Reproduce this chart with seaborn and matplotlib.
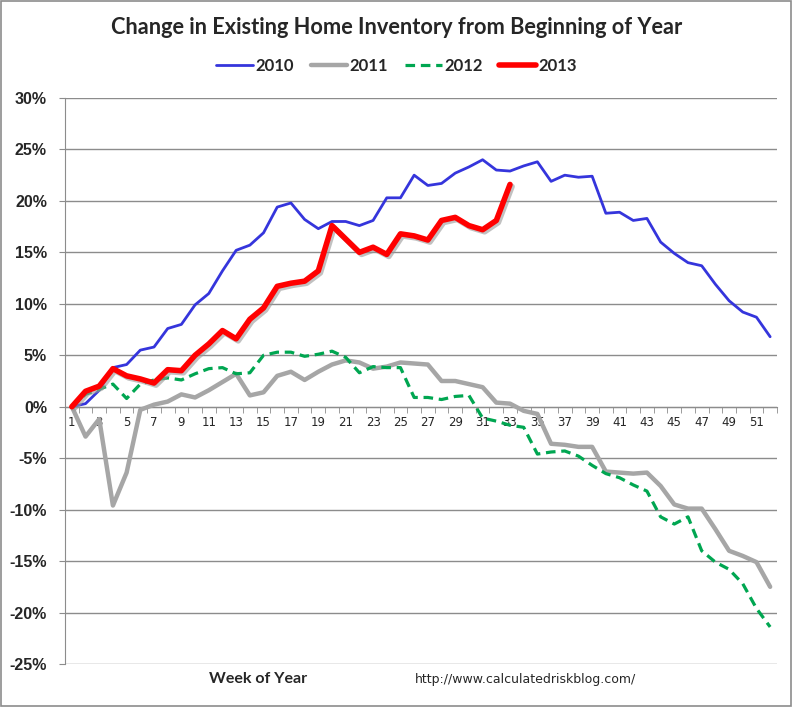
import numpy as np
import pandas as pd
import matplotlib
matplotlib.use("Agg")
import matplotlib.pyplot as plt
import matplotlib.patheffects as pe
from matplotlib.patches import Rectangle
from matplotlib.lines import Line2D
from matplotlib.ticker import FixedLocator, FuncFormatter
import seaborn as sns

weeks = list(range(1, 53))

y2010 = [0.0, 0.3, 1.6, 3.8, 4.1, 5.5, 5.8, 7.6, 8.0, 9.9, 11.0, 13.2, 15.2, 15.7, 16.9,
         19.4, 19.8, 18.2, 17.3, 18.0, 18.0, 17.6, 18.1, 20.3, 20.3, 22.5, 21.5, 21.7,
         22.7, 23.3, 24.0, 23.0, 22.9, 23.4, 23.8, 21.9, 22.5, 22.3, 22.4, 18.8, 18.9,
         18.1, 18.3, 16.0, 14.9, 14.0, 13.7, 11.9, 10.3, 9.2, 8.7, 6.8]
y2011 = [0.0, -2.9, -1.2, -9.6, -6.4, -0.3, 0.2, 0.5, 1.2, 0.9, 1.6, 2.4, 3.2, 1.1, 1.4,
         3.0, 3.4, 2.6, 3.4, 4.1, 4.5, 4.3, 3.7, 3.9, 4.3, 4.2, 4.1, 2.5, 2.5, 2.2, 1.9,
         0.4, 0.3, -0.4, -0.7, -3.6, -3.7, -3.9, -3.9, -6.3, -6.4, -6.5, -6.4, -7.7,
         -9.5, -9.9, -9.9, -11.9, -14.0, -14.5, -15.1, -17.5]
y2012 = [0.0, 1.2, 1.7, 2.2, 0.8, 2.2, 2.6, 2.8, 2.6, 3.2, 3.7, 3.8, 3.2, 3.3, 5.0, 5.3,
         5.3, 4.9, 5.1, 5.4, 4.8, 3.3, 3.9, 3.8, 3.8, 0.9, 0.9, 0.7, 1.0, 1.1, -1.1,
         -1.4, -1.8, -2.0, -4.6, -4.4, -4.3, -4.8, -5.7, -6.5, -6.9, -7.6, -8.2, -10.7,
         -11.4, -10.7, -14.0, -15.1, -15.8, -17.2, -19.6, -21.4]
y2013 = [0.0, 1.5, 2.0, 3.7, 3.0, 2.7, 2.3, 3.6, 3.5, 5.0, 6.1, 7.4, 6.6, 8.5, 9.6, 11.7,
         12.0, 12.2, 13.2, 17.6, 16.3, 15.0, 15.5, 14.8, 16.8, 16.6, 16.2, 18.1, 18.4,
         17.6, 17.2, 18.1, 21.6]

years = ["2010", "2011", "2012", "2013"]
y_ticks = list(range(-25, 31, 5))
x_labels = list(range(1, 53, 2))

frames = []
for name, vals in zip(years, [y2010, y2011, y2012, y2013]):
    frames.append(pd.DataFrame({"week": weeks[:len(vals)], "value": vals, "year": name}))
df = pd.concat(frames, ignore_index=True)

sns.set_style("white")
plt.rcParams["font.family"] = ["DejaVu Sans"]

fig = plt.figure(figsize=(7.93, 7.07), dpi=100)
ax = fig.add_axes([65 / 793, 1 - 664 / 707, (777 - 65) / 793, (664 - 98) / 707])

styles = {
    "2010": dict(color="#3535DC", lw=2.0, ls="-"),
    "2011": dict(color="#A6A6A6", lw=3.2, ls="-"),
    "2012": dict(color="#00A651", lw=2.3, ls=(0, (3, 1.8))),
    "2013": dict(color="#FF0000", lw=4.0, ls="-"),
}
for name in years:
    st = styles[name]
    sub = df[df["year"] == name]
    sns.lineplot(data=sub, x="week", y="value", ax=ax, color=st["color"],
                 linewidth=st["lw"], linestyle=st["ls"], label=name, legend=False,
                 zorder=3 if name != "2013" else 4)

red_line = ax.get_lines()[-1]
red_line.set_path_effects([pe.SimpleLineShadow(offset=(1.5, -1.5), shadow_color="#999999", alpha=0.6),
                           pe.Normal()])

ax.set_xlim(0.5, 52.5)
ax.set_ylim(-25, 30)
ax.set_yticks(y_ticks)
ax.yaxis.set_major_formatter(FuncFormatter(lambda v, p: f"{int(v)}%"))
ax.grid(axis="y", color="#8C8C8C", lw=1.0)
ax.set_axisbelow(True)
for t in ax.get_yticklabels():
    t.set_fontweight("bold")
    t.set_family(["Liberation Sans", "DejaVu Sans"])
ax.tick_params(axis="y", labelsize=11.5, length=4, color="#8C8C8C", left=True, pad=9)

ax.spines["bottom"].set_position(("data", 0))
ax.spines["bottom"].set_color("#8C8C8C")
ax.spines["left"].set_color("#8C8C8C")
ax.spines["top"].set_visible(False)
ax.spines["right"].set_visible(False)
ax.set_xticks(x_labels)
ax.set_xticklabels([str(v) for v in x_labels])
ax.xaxis.set_minor_locator(FixedLocator(np.arange(0.5, 53, 1.0)))
ax.tick_params(axis="x", which="major", length=0, labelsize=8.5, pad=7)
ax.tick_params(axis="x", which="minor", length=4, color="#8C8C8C", bottom=True, direction="out")
ax.set_xlabel("")
ax.set_ylabel("")

fig.text(0.5, 1 - 27 / 707, "Change in Existing Home Inventory from Beginning of Year",
         ha="center", va="center", fontsize=15.7, fontweight="bold", family=["Lato", "DejaVu Sans"])

leg_handles = [Line2D([], [], color=styles[n]["color"], lw=styles[n]["lw"], ls=styles[n]["ls"]) for n in years]
fig.legend(leg_handles, years, loc="center", bbox_to_anchor=(0.5, 1 - 66 / 707), ncol=4,
           frameon=False, handlelength=2.2, handletextpad=0.15, columnspacing=1.0,
           prop={"family": ["Lato", "DejaVu Sans"], "weight": "bold", "size": 12})

fig.text(258 / 793, 1 - 679 / 707, "Week of Year", ha="center", va="center",
         fontsize=11.5, fontweight="bold", family=["Lato", "DejaVu Sans"])
fig.text(525 / 793, 1 - 680 / 707, "http://www.calculatedriskblog.com/", ha="center", va="center",
         fontsize=9)

fig.patches.append(Rectangle((0.001, 0.001), 0.997, 0.997, transform=fig.transFigure,
                             fill=False, edgecolor="#8C8C8C", lw=1.2))

fig.savefig("out.png", dpi=100)
